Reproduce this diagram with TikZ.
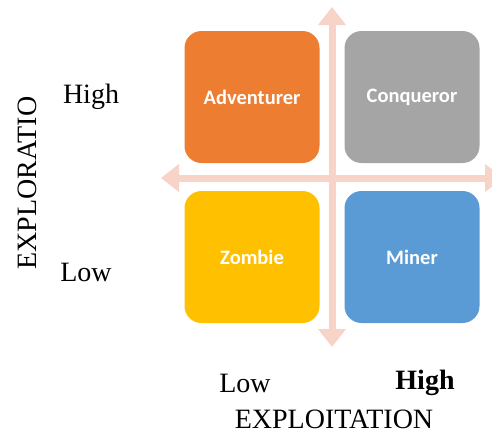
\documentclass[tikz,border=0pt]{standalone}
\usepackage{fontspec}
\setmainfont{Liberation Serif}
\newfontfamily\boxfont{Carlito}
\usetikzlibrary{arrows.meta}
\definecolor{hexcolor0xed7d31}{rgb}{0.929,0.490,0.192}
\definecolor{hexcolor0xa5a5a5}{rgb}{0.647,0.647,0.647}
\definecolor{hexcolor0xffc000}{rgb}{1.000,0.753,0.000}
\definecolor{hexcolor0x5b9bd5}{rgb}{0.357,0.608,0.835}
\definecolor{hexcolor0xf8d3c8}{rgb}{0.973,0.827,0.784}
\definecolor{mywhite}{rgb}{1.000,1.000,1.000}
\tikzstyle{quad}=[rounded corners=17pt,minimum width=135pt,minimum height=132pt,text=mywhite,font=\boxfont\bfseries\fontsize{20.5}{24}\selectfont]
\tikzstyle{setAdv}=[quad,fill=hexcolor0xed7d31]
\tikzstyle{setCon}=[quad,fill=hexcolor0xa5a5a5]
\tikzstyle{setZom}=[quad,fill=hexcolor0xffc000]
\tikzstyle{setMin}=[quad,fill=hexcolor0x5b9bd5]
\tikzstyle{axis}=[draw=hexcolor0xf8d3c8,line width=7pt,{Triangle[width=27pt,length=18pt]}-{Triangle[width=27pt,length=18pt]}]
\tikzstyle{lbl}=[inner sep=0pt,font=\fontsize{28}{32}\selectfont]

\begin{document}
\begin{tikzpicture}[x=1pt,y=-1pt]
	\useasboundingbox (0,0) rectangle (492,439);
		\coordinate (t) at (332, 7);
		\coordinate (b) at (332, 347);
		\coordinate (l) at (161, 178);
		\coordinate (r) at (503, 178);
		\draw [style=axis] (t) -- (b);
		\draw [style=axis] (l) -- (r);

		\node [style=setAdv] (0) at (252, 97) {Adventurer};
		\node [style=setCon] (1) at (412, 97) {Conqueror};
		\node [style=setZom] (2) at (252, 257) {Zombie};
		\node [style=setMin] (3) at (412, 257) {Miner};

		\node [style=lbl] (4) at (91, 97) {High};
		\node [style=lbl] (5) at (86, 272) {Low};
		\node [style=lbl,rotate=90] (6) at (27, 183) {EXPLORATIO};
		\node [style=lbl] (7) at (245, 383) {Low};
		\node [style=lbl,font=\bfseries\fontsize{28}{32}\selectfont] (8) at (425, 383) {High};
		\node [style=lbl] (9) at (334, 419) {EXPLOITATION};

\end{tikzpicture}
\end{document}
